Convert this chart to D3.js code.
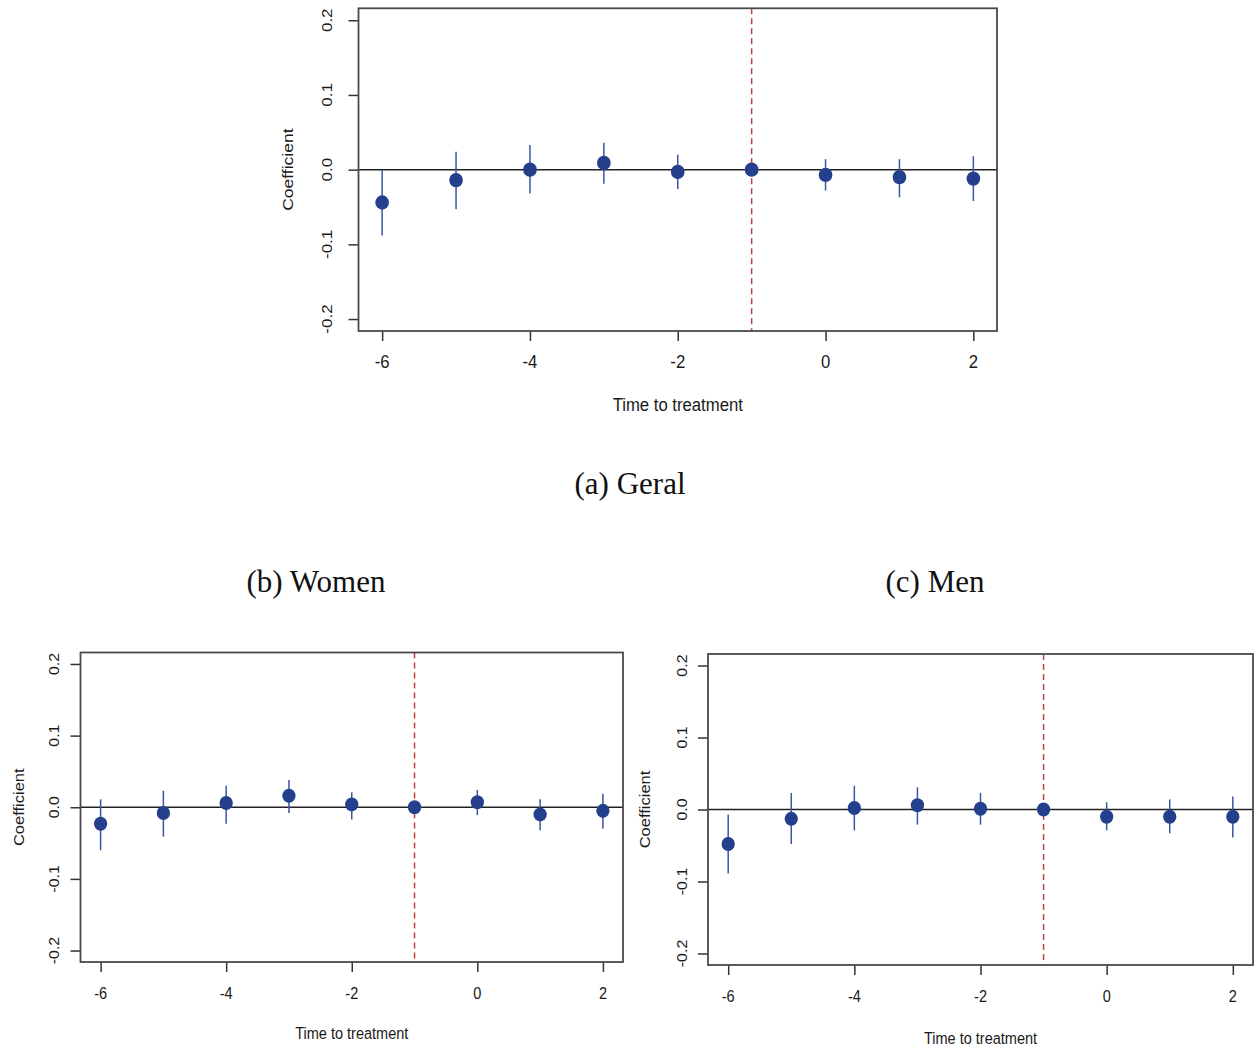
<!DOCTYPE html>
<html>
<head>
<meta charset="utf-8">
<script src="https://cdn.jsdelivr.net/npm/d3@7"></script>
<style>
  html, body { margin: 0; padding: 0; background: #ffffff; }
  svg { display: block; }
</style>
</head>
<body>
<svg id="fig" width="1257" height="1047"></svg>
<script>
// Event-study periods and tick labels
const periods = [-6, -5, -4, -3, -2, -1, 0, 1, 2];
const xTicks = [-6, -4, -2, 0, 2];
const yTicks = [-0.2, -0.1, 0.0, 0.1, 0.2];
const yTickLabels = ["-0.2", "-0.1", "0.0", "0.1", "0.2"];
const refPeriod = -1;

// (a) Geral
const geralEst = [-0.044, -0.014, 0.000, 0.009, -0.003, 0.000, -0.007, -0.010, -0.012];
const geralLo  = [-0.088, -0.053, -0.032, -0.019, -0.026, 0.000, -0.028, -0.037, -0.042];
const geralHi  = [ 0.000,  0.024,  0.033,  0.036,  0.020, 0.000,  0.014,  0.014,  0.018];

// (b) Women
const womenEst = [-0.023, -0.008, 0.006, 0.016, 0.004, 0.000, 0.007, -0.010, -0.005];
const womenLo  = [-0.060, -0.041, -0.023, -0.008, -0.017, 0.000, -0.011, -0.032, -0.030];
const womenHi  = [ 0.011,  0.023,  0.030,  0.038,  0.021, 0.000,  0.024,  0.011,  0.019];

// (c) Men
const menEst = [-0.048, -0.013, 0.002, 0.006, 0.001, 0.000, -0.010, -0.010, -0.010];
const menLo  = [-0.089, -0.048, -0.029, -0.021, -0.021, 0.000, -0.029, -0.033, -0.039];
const menHi  = [-0.007,  0.023,  0.033,  0.031,  0.023, 0.000,  0.010,  0.014,  0.018];

const titles = ["(a) Geral", "(b) Women", "(c) Men"];

const svg = d3.select("#fig");
const SX = 0.88; // horizontal squeeze of the text glyphs
const sans = "Liberation Sans, Arial, Helvetica, sans-serif";
const serif = "Liberation Serif, Times New Roman, serif";

const pointColor = "#243f8b";
const ciColor = "#3a56a3";

function panel(cfg, est, lo, hi) {
  const x = d3.scaleLinear().domain([-6.32, 2.32]).range([cfg.left, cfg.right]);
  const y = d3.scaleLinear().domain([-0.216, 0.216]).range([cfg.bottom, cfg.top]);
  const g = svg.append("g");
  const rows = periods.map((p, i) => ({ p, est: est[i], lo: lo[i], hi: hi[i] }));

  // axis ticks (labels drawn separately)
  g.append("g")
    .attr("transform", `translate(0,${cfg.bottom})`)
    .call(d3.axisBottom(x).tickValues(xTicks).tickSize(10).tickSizeOuter(0).tickFormat(""))
    .call(a => a.select(".domain").remove())
    .call(a => a.selectAll("line").attr("stroke", "#333").attr("stroke-width", 1.5));
  g.append("g")
    .attr("transform", `translate(${cfg.left},0)`)
    .call(d3.axisLeft(y).tickValues(yTicks).tickSize(10).tickSizeOuter(0).tickFormat(""))
    .call(a => a.select(".domain").remove())
    .call(a => a.selectAll("line").attr("stroke", "#333").attr("stroke-width", 1.5));

  // x tick labels
  g.selectAll(".xl").data(xTicks).join("text")
    .attr("transform", d => `translate(${x(d)},${cfg.bottom + cfg.xLabOff}) scale(${SX},1)`)
    .attr("text-anchor", "middle").attr("dominant-baseline", "central")
    .attr("font-family", sans).attr("font-size", cfg.fs).attr("fill", "#1a1a1a")
    .text(d => String(d));

  // y tick labels (vertical, R style)
  g.selectAll(".yl").data(yTicks).join("text")
    .attr("transform", d => `translate(${cfg.left + cfg.yLabOff},${y(d)}) scale(${SX},1) rotate(-90)`)
    .attr("text-anchor", "middle").attr("dominant-baseline", "central")
    .attr("font-family", sans).attr("font-size", cfg.fsY).attr("fill", "#1a1a1a")
    .text((d, i) => yTickLabels[i]);

  // axis titles
  g.append("text")
    .attr("transform", `translate(${(cfg.left + cfg.right) / 2},${cfg.bottom + cfg.xTitleOff}) scale(${SX},1)`)
    .attr("text-anchor", "middle").attr("dominant-baseline", "central")
    .attr("font-family", sans).attr("font-size", cfg.fs).attr("fill", "#1a1a1a")
    .text("Time to treatment");
  g.append("text")
    .attr("transform", `translate(${cfg.left + cfg.yTitleOff},${(cfg.top + cfg.bottom) / 2}) scale(${SX},1) rotate(-90)`)
    .attr("text-anchor", "middle").attr("dominant-baseline", "central")
    .attr("font-family", sans).attr("font-size", cfg.fsT).attr("fill", "#1a1a1a")
    .text("Coefficient");

  // zero reference line
  g.append("line")
    .attr("x1", cfg.left).attr("x2", cfg.right)
    .attr("y1", y(0)).attr("y2", y(0))
    .attr("stroke", "#222").attr("stroke-width", 1.5);

  // treatment onset line
  g.append("line")
    .attr("x1", x(refPeriod)).attr("x2", x(refPeriod))
    .attr("y1", cfg.top).attr("y2", cfg.bottom)
    .attr("stroke", "#c2403f").attr("stroke-width", 1.5)
    .attr("stroke-dasharray", "6,4");

  // confidence intervals
  g.selectAll(".ci").data(rows).join("line")
    .attr("x1", d => x(d.p)).attr("x2", d => x(d.p))
    .attr("y1", d => y(d.lo)).attr("y2", d => y(d.hi))
    .attr("stroke", ciColor).attr("stroke-width", 1.5);

  // point estimates
  g.selectAll(".pt").data(rows).join("ellipse")
    .attr("cx", d => x(d.p)).attr("cy", d => y(d.est))
    .attr("rx", cfg.r * 0.95).attr("ry", cfg.r)
    .attr("fill", pointColor);

  // plot frame
  g.append("rect")
    .attr("x", cfg.left).attr("y", cfg.top)
    .attr("width", cfg.right - cfg.left).attr("height", cfg.bottom - cfg.top)
    .attr("fill", "none").attr("stroke", "#4a4a4a").attr("stroke-width", 1.8);
}

panel({ left: 358.5, right: 997, top: 8.3, bottom: 331, fs: 19, fsY: 17, fsT: 17.5, r: 7.2,
        xLabOff: 31, xTitleOff: 74, yLabOff: -32, yTitleOff: -71 },
      geralEst, geralLo, geralHi);
panel({ left: 80.5, right: 623, top: 652.5, bottom: 962, fs: 16.5, fsY: 16, fsT: 16.5, r: 7,
        xLabOff: 31, xTitleOff: 71, yLabOff: -27, yTitleOff: -62 },
      womenEst, womenLo, womenHi);
panel({ left: 708, right: 1253, top: 654, bottom: 965, fs: 16.5, fsY: 16, fsT: 16.5, r: 7,
        xLabOff: 31, xTitleOff: 73, yLabOff: -26, yTitleOff: -63 },
      menEst, menLo, menHi);

// panel captions
const capPos = [[630, 494], [316, 592], [935, 592]];
svg.selectAll(".cap").data(titles).join("text")
  .attr("x", (d, i) => capPos[i][0]).attr("y", (d, i) => capPos[i][1])
  .attr("text-anchor", "middle")
  .attr("font-family", serif).attr("font-size", 31).attr("fill", "#111")
  .text(d => d);
</script>
</body>
</html>
